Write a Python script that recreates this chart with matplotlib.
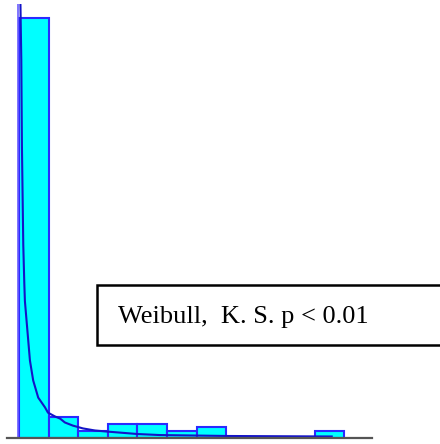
"""
Histogram with a fitted Weibull curve and a label box.

"""
import matplotlib
matplotlib.use("Agg")
import matplotlib.pyplot as plt
from matplotlib.patches import Rectangle

# histogram counts per bin (bin width 1, first bin starts at 0)
bin_edges = list(range(12))
counts = [120, 6, 2, 4, 4, 2, 3, 0, 0, 0, 2]

# fitted curve
curve_x = [0.0, 0.02, 0.078, 0.10, 0.145, 0.18, 0.20, 0.29, 0.37, 0.48,
           0.65, 0.88, 0.98, 1.22, 1.39, 1.55, 1.82, 2.16, 2.57, 2.97,
           3.41, 3.99, 4.76, 7.1, 10.57]
curve_y = [200, 140, 108, 83, 55, 44, 39, 30, 22, 16.3,
           11.4, 8.6, 7.1, 6.0, 5.4, 4.3, 3.4, 2.6, 2.0, 1.7,
           1.4, 1.0, 0.7, 0.43, 0.29]

label = "Weibull,  K. S. p < 0.01"

W, H = 440, 444
fig = plt.figure(figsize=(W / 100, H / 100), dpi=100)
ax = fig.add_axes([7 / W, 6.5 / H, 365 / W, 433.5 / H])

ax.bar(bin_edges[:-1], counts, width=1, align="edge",
       color="#00ffff", edgecolor="#2a2aff", linewidth=1.5, zorder=2)
ax.plot(curve_x, curve_y, color="#1414c8", linewidth=1.5, zorder=3)
ax.axvline(-0.03, color="#6a5cff", linewidth=1.2, zorder=3)

ax.set_xlim(-0.405, 11.93)
ax.set_ylim(0, 123.9)
for side in ("top", "right", "left"):
    ax.spines[side].set_visible(False)
ax.spines["bottom"].set_color("#555555")
ax.spines["bottom"].set_linewidth(1.6)
ax.spines["bottom"].set_zorder(4)
ax.set_xticks([])
ax.set_yticks([])

# label box, running off the right edge
box = Rectangle((96.5 / W, 1 - 345 / H), 360 / W, 60 / H,
                transform=fig.transFigure, facecolor="white",
                edgecolor="black", linewidth=1.8, zorder=5)
fig.patches.append(box)
fig.text(118 / W, 1 - 322.7 / H, label, family="Liberation Serif",
         fontsize=19, va="baseline", ha="left", zorder=6)

fig.savefig("out.png", dpi=100)
